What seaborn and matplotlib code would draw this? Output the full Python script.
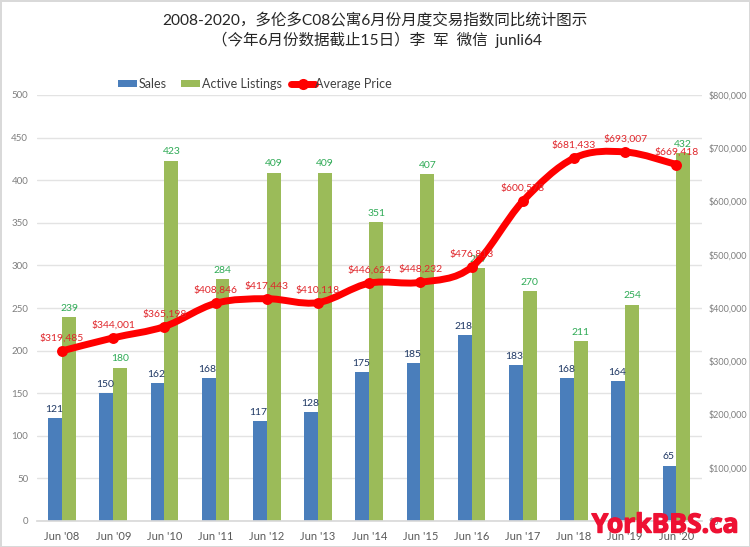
import numpy as np
import pandas as pd
import matplotlib.pyplot as plt
import matplotlib.patheffects as pe
import seaborn as sns
from matplotlib.path import Path
from matplotlib.patches import PathPatch

# Data
months = ["Jun '08", "Jun '09", "Jun '10", "Jun '11", "Jun '12", "Jun '13", "Jun '14",
          "Jun '15", "Jun '16", "Jun '17", "Jun '18", "Jun '19", "Jun '20"]
sales = [121, 150, 162, 168, 117, 128, 175, 185, 218, 183, 168, 164, 65]
listings = [239, 180, 423, 284, 409, 409, 351, 407, 297, 270, 211, 254, 432]
prices = [319485, 344001, 365198, 408846, 417443, 410118, 446624,
          448232, 476813, 600578, 681433, 693007, 669418]

BLUE = '#4a7ebb'
GREEN = '#9bbb59'
RED = '#ff0000'
GRID = '#e3e3e3'
TICK = '#7f7f7f'

sns.set_theme(style='white')
plt.rcParams['font.family'] = ['Lato', 'Noto Sans CJK SC', 'DejaVu Sans']


def smooth_path(xs, ys):
    # Excel style smoothed line: bezier segments through the data points
    xs, ys = np.asarray(xs, float), np.asarray(ys, float)
    verts = [(xs[0], ys[0])]
    codes = [Path.MOVETO]
    for i in range(len(xs) - 1):
        x0, y0 = (xs[i - 1], ys[i - 1]) if i > 0 else (xs[i], ys[i])
        x3, y3 = (xs[i + 2], ys[i + 2]) if i + 2 < len(xs) else (xs[i + 1], ys[i + 1])
        verts.append((xs[i] + (xs[i + 1] - x0) / 6, ys[i] + (ys[i + 1] - y0) / 6))
        verts.append((xs[i + 1] - (x3 - xs[i]) / 6, ys[i + 1] - (y3 - ys[i]) / 6))
        verts.append((xs[i + 1], ys[i + 1]))
        codes += [Path.CURVE4] * 3
    return Path(verts, codes)


df = pd.DataFrame({'month': months, 'Sales': sales, 'Active Listings': listings})
long_df = df.melt(id_vars='month', var_name='series', value_name='count')

fig = plt.figure(figsize=(7.5, 5.47), dpi=100, facecolor='white',
                 edgecolor='#d9d9d9', linewidth=2)
ax = fig.add_axes([36.5 / 750, 1 - 521 / 547, 665.5 / 750, 426 / 547])

sns.barplot(data=long_df, x='month', y='count', hue='series', ax=ax, width=0.54, gap=0,
            palette=[BLUE, GREEN], saturation=1, legend=False, zorder=2, linewidth=0)
ax.set_xlim(-0.5, 12.5)
ax.set_ylim(0, 500)
ax.set_yticks(range(0, 501, 50))
ax.set_xlabel('')
ax.set_ylabel('')
ax.grid(axis='y', color=GRID, lw=1)
ax.set_axisbelow(True)
ax.tick_params(axis='y', length=0, labelsize=7, labelcolor=TICK, pad=6)
ax.tick_params(axis='x', length=0, labelsize=8, labelcolor='#595959', pad=7)
for side in ['top', 'left', 'right']:
    ax.spines[side].set_visible(False)
ax.spines['bottom'].set_color('#d9d9d9')

# Price line on the secondary axis
ax2 = ax.twinx()
xs = np.arange(len(prices))
ax2.add_patch(PathPatch(smooth_path(xs, prices), fill=False, edgecolor=RED, lw=5,
                        capstyle='round', zorder=3))
sns.scatterplot(x=xs, y=prices, ax=ax2, color=RED, s=62, linewidth=0, zorder=4, legend=False)
ax2.set_ylim(0, 800000)
ax2.set_yticks(range(0, 800001, 100000))
ax2.set_yticklabels(['$0'] + [f'${v:,}' for v in range(100000, 800001, 100000)])
ax2.set_ylabel('')
ax2.tick_params(axis='y', length=0, labelsize=6.5, labelcolor=TICK, pad=5)
for side in ['top', 'left', 'right', 'bottom']:
    ax2.spines[side].set_visible(False)

# Value labels
bar_off = 0.54 / 4
for i, (s, l) in enumerate(zip(sales, listings)):
    ax.annotate(str(s), (i - bar_off, s), xytext=(-1, 3), textcoords='offset points',
                ha='center', va='bottom', fontsize=7.5, color='#1f3864', zorder=5)
    ax.annotate(str(l), (i + bar_off, l), xytext=(0, 3), textcoords='offset points',
                ha='center', va='bottom', fontsize=7.5, color='#2eaa55', zorder=5)
for i, p in enumerate(prices):
    ax2.annotate(f'${p:,}', (i, p), xytext=(0, 6), textcoords='offset points',
                 ha='center', va='bottom', fontsize=7.5, color='#e0262b', zorder=6)

# Legend drawn in figure pixel coordinates
lax = fig.add_axes([0, 0, 1, 1], facecolor='none')
lax.set_axis_off()
lax.set_xlim(0, 750)
lax.set_ylim(547, 0)
lax.fill_between([118, 137], 80, 87, color=BLUE, lw=0)
lax.text(139, 83.5, 'Sales', fontsize=9, color='#404040', va='center')
lax.fill_between([181, 200], 80, 87, color=GREEN, lw=0)
lax.text(202, 83.5, 'Active Listings', fontsize=9, color='#404040', va='center')
lax.plot([291, 315], [83.5, 83.5], color=RED, lw=5)
lax.plot([303], [83.5], 'o', color=RED, ms=8, mew=0)
lax.text(315, 83.5, 'Average Price', fontsize=9, color='#404040', va='center')

fig.text(375 / 750, 1 - 20 / 547, '2008-2020，多伦多C08公寓6月份月度交易指数同比统计图示',
         ha='center', va='center', fontsize=11.2, color='#262626')
fig.text(377 / 750, 1 - 40 / 547, '（今年6月份数据截止15日）李  军  微信  junli64',
         ha='center', va='center', fontsize=11.2, color='#262626')

# Watermark
lax.text(665, 525, 'YorkBBS.ca', fontsize=19, fontweight='bold', color='#ee1133',
         ha='center', va='center', family='Open Sans',
         path_effects=[pe.withStroke(linewidth=1, foreground='#ee1133')])

fig.savefig('out.png', dpi=100, facecolor=fig.get_facecolor(), edgecolor=fig.get_edgecolor())
plt.close(fig)
